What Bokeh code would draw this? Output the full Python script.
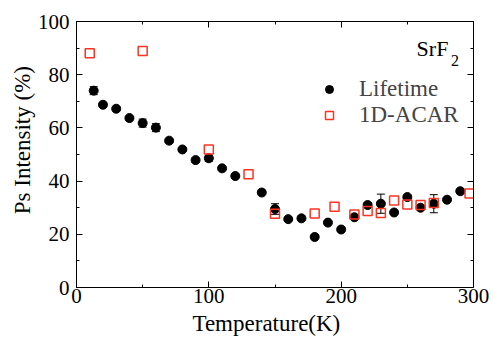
from bokeh.plotting import figure
from bokeh.models import (ColumnDataSource, Whisker, TeeHead, Legend, LegendItem,
                          LinearAxis, Label, Range1d, FixedTicker)
from bokeh.embed import file_html
from bokeh.resources import INLINE

# Lifetime data
life_T = [13, 20, 30, 40, 50, 60, 70, 80, 90, 100, 110, 120, 140, 150, 160, 170, 180,
          190, 200, 210, 220, 230, 240, 250, 260, 270, 280, 290]
life_I = [74.0, 68.7, 67.2, 63.7, 61.8, 60.1, 55.2, 51.9, 47.9, 48.6, 44.8, 41.9, 35.7,
          29.5, 25.7, 26.0, 19.0, 24.4, 21.8, 26.4, 31.0, 31.5, 28.2, 34.0, 30.0, 31.5,
          33.0, 36.2]
life_err = [1.5, 0.8, 0.8, 0.6, 1.5, 1.5, 0.8, 0.6, 0.8, 1.2, 0.6, 0.6, 0.8, 2.0, 0.6,
            0.8, 0.6, 0.6, 0.8, 0.6, 0.8, 3.6, 0.6, 0.8, 0.8, 3.4, 0.6, 0.8]

# 1D-ACAR data
acar_T = [10, 50, 100, 130, 150, 180, 195, 210, 220, 230, 240, 250, 260, 270, 297]
acar_I = [88.1, 88.9, 51.9, 42.6, 27.7, 27.8, 30.4, 27.4, 28.8, 28.0, 32.7, 31.2, 31.0,
          31.8, 35.3]

x_ticks = [0, 100, 200, 300]
x_minor = [50, 150, 250]
y_ticks = [0, 20, 40, 60, 80, 100]
y_minor = [10, 30, 50, 70, 90]

x_title = "Temperature(K)"
y_title = "Ps Intensity (%)"

FONT = "Liberation Serif"
NBSP = "\u00a0"

p = figure(width=494, height=339, output_backend="svg", toolbar_location=None,
           x_range=Range1d(0, 300), y_range=Range1d(0, 100),
           min_border_left=76, min_border_right=21, min_border_top=21, min_border_bottom=52)
p.xgrid.visible = False
p.ygrid.visible = False
p.outline_line_color = "black"
p.outline_line_width = 1
p.background_fill_color = "white"
p.border_fill_color = "white"

src_l = ColumnDataSource(dict(x=life_T, y=life_I,
                              lo=[a - b for a, b in zip(life_I, life_err)],
                              hi=[a + b for a, b in zip(life_I, life_err)]))
src_a = ColumnDataSource(dict(x=acar_T, y=acar_I))

w = Whisker(source=src_l, base="x", upper="hi", lower="lo", line_color="black", line_width=1,
            upper_head=TeeHead(size=8, line_color="black", line_width=1),
            lower_head=TeeHead(size=8, line_color="black", line_width=1))
p.add_layout(w)

r_l = p.scatter("x", "y", source=src_l, marker="circle", size=9, fill_color="black",
                line_color="black")
r_a = p.scatter("x", "y", source=src_a, marker="square", size=9, fill_color=None,
                line_color="#ff3322", line_width=1.5)

for ax in (p.xaxis[0], p.yaxis[0]):
    ax.major_tick_in = 6
    ax.major_tick_out = 0
    ax.minor_tick_in = 3
    ax.minor_tick_out = 0
    ax.axis_line_color = "black"
    ax.major_tick_line_color = "black"
    ax.minor_tick_line_color = "black"
    ax.major_label_text_font = FONT
    ax.major_label_text_font_size = "21px"
    ax.major_label_text_color = "black"
    ax.axis_label_text_font = FONT
    ax.axis_label_text_font_size = "23px"
    ax.axis_label_text_font_style = "normal"
    ax.axis_label_text_color = "black"

p.xaxis[0].ticker = FixedTicker(ticks=x_ticks, minor_ticks=x_minor)
p.yaxis[0].ticker = FixedTicker(ticks=y_ticks, minor_ticks=y_minor)
# titles sit a little off-centre in the original: pad with non-breaking spaces
p.xaxis[0].axis_label = x_title + NBSP * 3
p.yaxis[0].axis_label = NBSP * 5 + y_title
p.xaxis[0].major_label_standoff = 1
p.xaxis[0].axis_label_standoff = 5
p.yaxis[0].major_label_standoff = 7
p.yaxis[0].axis_label_standoff = 0

top = LinearAxis(ticker=FixedTicker(ticks=x_ticks, minor_ticks=x_minor),
                 major_label_overrides={t: "" for t in x_ticks})
right = LinearAxis(ticker=FixedTicker(ticks=y_ticks, minor_ticks=y_minor),
                   major_label_overrides={t: "" for t in y_ticks})
for ax in (top, right):
    ax.major_tick_in = 6
    ax.major_tick_out = 0
    ax.minor_tick_in = 3
    ax.minor_tick_out = 0
    ax.major_label_text_font_size = "1px"
    ax.major_label_standoff = 0
    ax.axis_line_color = "black"
p.add_layout(top, "above")
p.add_layout(right, "right")

legend = Legend(items=[LegendItem(label="Lifetime", renderers=[r_l]),
                       LegendItem(label="1D-ACAR", renderers=[r_a])],
                location=(243, 159), padding=0, margin=0, spacing=-4,
                border_line_alpha=0, background_fill_alpha=0,
                label_text_font=FONT, label_text_font_size="23px",
                label_standoff=20, glyph_width=20, glyph_height=20, label_height=20)
p.add_layout(legend)

p.add_layout(Label(x=257, y=85.0, text="SrF", text_font=FONT, text_font_size="22px",
                   text_color="black"))
p.add_layout(Label(x=283, y=83.4, text="2", text_font=FONT, text_font_size="16px",
                   text_color="black"))

open("out.html", "w").write(file_html(p, INLINE))
